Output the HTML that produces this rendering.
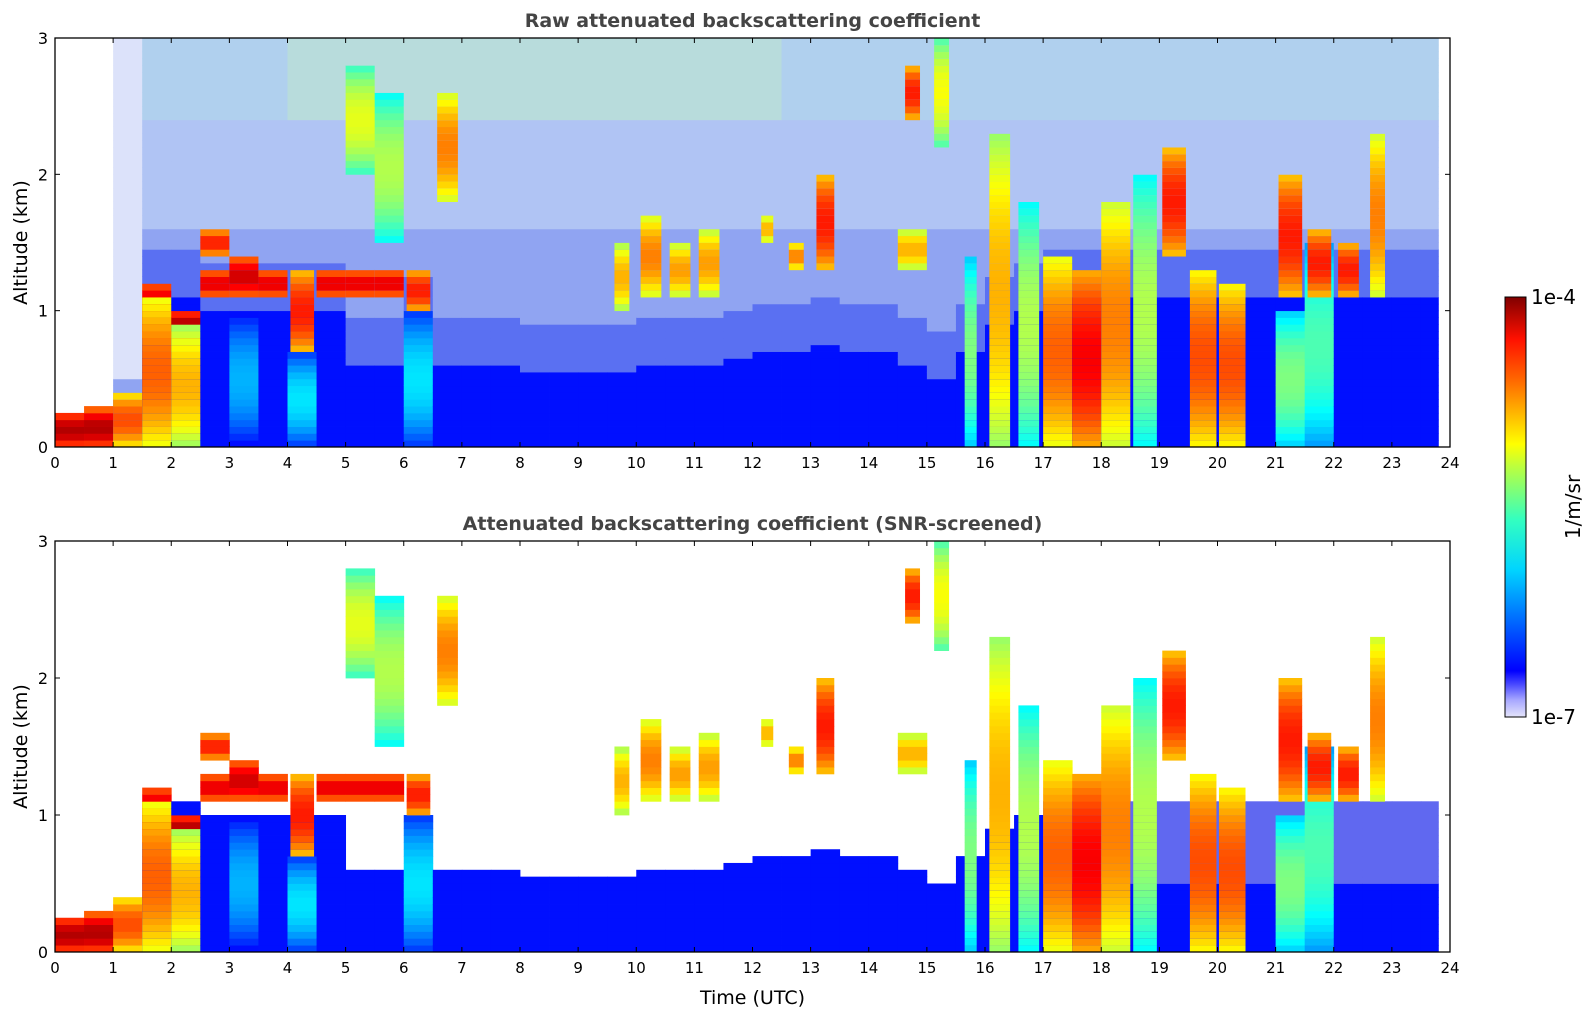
<!DOCTYPE html>
<html><head><meta charset="utf-8">
<style>
html,body{margin:0;padding:0;background:#fff;}
body{width:1595px;height:1020px;position:relative;overflow:hidden;font-family:"Liberation Sans","DejaVu Sans",sans-serif;}
svg text{font-family:"DejaVu Sans","Liberation Sans",sans-serif;}
</style></head>
<body>
<svg id="chart" width="1595" height="1020" xmlns="http://www.w3.org/2000/svg">
<defs>
<linearGradient id="cbgrad" x1="0" y1="1" x2="0" y2="0">
<stop offset="0" stop-color="#e4e4fa"/><stop offset="0.04" stop-color="#a8a8ff"/><stop offset="0.08" stop-color="#4444ff"/>
<stop offset="0.11" stop-color="#0000ff"/><stop offset="0.35" stop-color="#00d4ff"/><stop offset="0.47" stop-color="#33ffc0"/>
<stop offset="0.6" stop-color="#c0ff3a"/><stop offset="0.65" stop-color="#ffff00"/><stop offset="0.8" stop-color="#ff6a00"/>
<stop offset="0.9" stop-color="#ff1000"/><stop offset="1" stop-color="#800000"/>
</linearGradient>
</defs>
</svg>
<script>
// ---- data (48 half-hour columns, 0..24 UTC) ----
const hours = [0,1,2,3,4,5,6,7,8,9,10,11,12,13,14,15,16,17,18,19,20,21,22,23,24];
const altTicks = [0,1,2,3];
const blueTop = [0,0,0,1.1,1.1,1.0,1.0,1.0,1.0,1.0,0.6,0.6,0.9,0.6,0.6,0.6,0.55,0.55,0.55,0.55,0.6,0.6,0.6,0.65,0.7,0.7,0.75,0.7,0.7,0.6,0.5,0.7,0.9,1.0,1.1,1.1,1.1,1.1,1.1,1.1,1.1,1.1,1.1,1.1,1.1,1.1,1.1,1.1];
const skyNoise = [0,0,0.4,1,1,1,1,1,1,1,1,1,1,1,1,1,1,1,1,1,1,1,1,1,1,1,1,1,1,1,1,1,1,1,1,1,1,1,1,1,1,1,1,1,1,1,1,1];
const cloudBase = [0,0,0,0,0,1.1,1.1,1.1,0.7,1.1,1.1,1.1,1.0,1.8,0,0,0,0,0,1.0,1.1,1.1,1.1,0,1.5,1.3,1.3,0,0,2.4,2.2,0,0,0,0,0,0,0,1.4,0,0,0,1.1,1.1,1.1,1.1,0,0];
const cloudTop  = [0.25,0.28,0.4,1.1,0.9,1.3,1.4,1.3,1.3,1.3,1.3,1.3,1.3,2.6,0,0,0,0,0,1.5,1.7,1.5,1.6,0,1.7,1.5,2.0,0,0,2.8,3.0,1.4,2.3,1.8,1.4,1.3,1.8,2.0,2.2,1.3,1.2,0,2.0,1.6,1.5,2.3,0,0];
const cloudVal  = [0.95,0.95,0.8,0.78,0.7,0.9,0.92,0.9,0.85,0.9,0.9,0.9,0.85,0.75,0,0,0,0,0,0.7,0.75,0.72,0.72,0,0.7,0.75,0.85,0,0,0.85,0.62,0.5,0.7,0.55,0.78,0.88,0.75,0.55,0.85,0.8,0.8,0,0.85,0.85,0.85,0.75,0,0];
const cloudFrac = [1,1,1,1,1,1,1,1,0.8,1,1,1,0.8,0.7,0,0,0,0,0,0.5,0.7,0.7,0.7,0,0.4,0.5,0.6,0,0,0.5,0.5,0.4,0.7,0.7,1,1,1,0.8,0.8,0.9,0.9,0,0.8,0.8,0.7,0.5,0,0];
const cloud2Base = [0,0,0,0.8,0.8,1.4,0,0,0,0,2.0,1.5,0,0,0,0,0,0,0,0,0,0,0,0,0,0,0,0,0,1.3,0,0,0,0,0,0,0,0,0,0,0,0,0,0,0,0,0,0];
const cloud2Top  = [0,0,0,1.2,1.0,1.6,1.0,0,0.7,0,2.8,2.6,1.0,0,0,0,0,0,0,0,0,0,0,0,0,0,0,0,0,1.6,0,0,0,0,0,0,0,0,0,0,0,0,1.0,1.5,0,0,0,0];
const cloud2Val  = [0,0,0,0.95,0.95,0.85,0.3,0,0.35,0,0.6,0.55,0.35,0,0,0,0,0,0,0,0,0,0,0,0,0,0,0,0,0.7,0,0,0,0,0,0,0,0,0,0,0,0,0.5,0.45,0,0,0,0];
const dataEnd = 23.8;

const X0=55, X1=1450;
const panels=[{top:38,bot:447,title:"Raw attenuated backscattering coefficient",raw:true,name:"raw-panel"},
              {top:541,bot:952,title:"Attenuated backscattering coefficient (SNR-screened)",raw:false,name:"screened-panel"}];
const svg=document.getElementById('chart');
const NS="http://www.w3.org/2000/svg";
function xs(h){return X0+(X1-X0)*h/24;}
function jet(v){const c=t=>Math.round(255*Math.max(0,Math.min(1,t)));
  return `rgb(${c(1.5-Math.abs(4*v-3))},${c(1.5-Math.abs(4*v-2))},${c(1.5-Math.abs(4*v-1))})`;}
function mk(tag,attrs){const e=document.createElementNS(NS,tag);for(const k in attrs)e.setAttribute(k,attrs[k]);return e;}
function cloudValAt(base,top,val,a){if(top<=base||a<base||a>=top)return null;
  const c=(base+top)/2,h=(top-base)/2;const d=(a-c)/h;return val-0.18*d*d;}

panels.forEach(p=>{
  const ys=a=>p.bot-(p.bot-p.top)*a/3;
  const g=mk('g',{});
  
  
  svg.appendChild(g);
  const dA=0.05;
  for(let i=0;i<48;i++){
    const t0=i*0.5; if(t0>=dataEnd)continue;
    const t1=Math.min(t0+0.5,dataEnd);
    for(let a=0;a<3-1e-9;a+=dA){
      const am=a+dA/2;
      let bg=null;
      if(am<blueTop[i]) bg = (!p.raw && i>=34 && am>0.5) ? '#6068f0' : jet(0.14);
      else if(p.raw && skyNoise[i]>0){
        if(am<blueTop[i]+0.35) bg='#5a70f2';
        else if(am<1.6) bg='#90a4f2';
        else if(am<2.4) bg='#b0c4f4';
        else bg = (i>=8&&i<=24)?'#b8dcdc':'#b0d0ee';
        if(skyNoise[i]<1 && am>0.5) bg='#dce2fa';
      }
      const y=ys(a+dA).toFixed(2), hh=((p.bot-p.top)*dA/3+0.4).toFixed(2);
      const xa=xs(t0), xb=xs(t1);
      let v2=cloudValAt(cloud2Base[i],cloud2Top[i],cloud2Val[i],am);
      if(v2!==null) bg=jet(v2);
      if(bg){
        const r=mk('rect',{x:xa.toFixed(2),y:y,width:(xb-xa+0.4).toFixed(2),height:hh,fill:bg});
        
        
        g.appendChild(r);
      }
      let v=cloudValAt(cloudBase[i],cloudTop[i],cloudVal[i],am);
      if(v!==null && cloudFrac[i]>0){
        const w=(xb-xa)*cloudFrac[i];
        const r=mk('rect',{x:(xa+(xb-xa-w)/2).toFixed(2),y:y,width:(w+0.4).toFixed(2),height:hh,fill:jet(v)});
        
        
        g.appendChild(r);
      }
    }
  }
  const fr=mk('rect',{x:X0,y:p.top,width:X1-X0,height:p.bot-p.top,fill:'none',stroke:'#000','stroke-width':1.3});
  
  
  svg.appendChild(fr);
  hours.forEach(h=>{
    const x=xs(h);
    svg.appendChild(mk('line',{x1:x,x2:x,y1:p.bot,y2:p.bot-5,stroke:'#000'}));
    svg.appendChild(mk('line',{x1:x,x2:x,y1:p.top,y2:p.top+5,stroke:'#000'}));
    const t=mk('text',{x:x,y:p.bot+21,'text-anchor':'middle','font-size':15,fill:'#000'});t.textContent=h;
    
    
    svg.appendChild(t);
  });
  altTicks.forEach(a=>{
    const y=ys(a);
    svg.appendChild(mk('line',{x1:X0,x2:X0+5,y1:y,y2:y,stroke:'#000'}));
    svg.appendChild(mk('line',{x1:X1,x2:X1-5,y1:y,y2:y,stroke:'#000'}));
    const t=mk('text',{x:X0-7,y:y+6,'text-anchor':'end','font-size':16,fill:'#000'});t.textContent=a;
    
    
    svg.appendChild(t);
  });
  const tt=mk('text',{x:(X0+X1)/2,y:p.top-11,'text-anchor':'middle','font-size':19,'font-weight':'bold',fill:'#444'});tt.textContent=p.title;
  
  
  svg.appendChild(tt);
  const yl=mk('text',{x:0,y:0,'text-anchor':'middle','font-size':19,fill:'#000',transform:`translate(27,${(p.top+p.bot)/2}) rotate(-90)`});yl.textContent='Altitude (km)';
  
  
  svg.appendChild(yl);
});
const xl=mk('text',{x:(X0+X1)/2,y:1004,'text-anchor':'middle','font-size':19,fill:'#000'});xl.textContent='Time (UTC)';


svg.appendChild(xl);
const cb=mk('rect',{x:1505,y:297,width:21,height:420,fill:'url(#cbgrad)',stroke:'#000','stroke-width':1});


svg.appendChild(cb);
[['1e-4',304],['1e-7',724]].forEach(([s,y])=>{const t=mk('text',{x:1531,y:y,'font-size':20,fill:'#000'});t.textContent=s;
  
  
  svg.appendChild(t);});
const cu=mk('text',{x:0,y:0,'text-anchor':'middle','font-size':20,fill:'#000',transform:'translate(1580,507) rotate(-90)'});cu.textContent='1/m/sr';


svg.appendChild(cu);
</script>
</body></html>
